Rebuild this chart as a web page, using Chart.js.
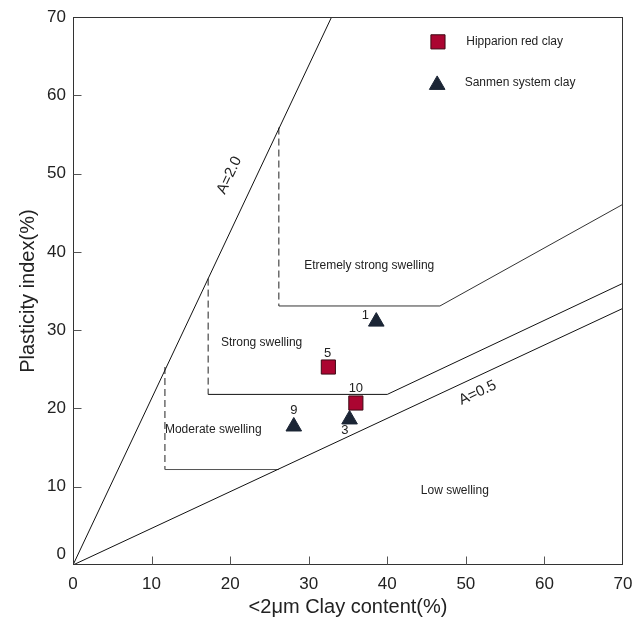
<!DOCTYPE html>
<html>
<head>
<meta charset="utf-8">
<script src="https://cdn.jsdelivr.net/npm/chart.js@4.4.1/dist/chart.umd.min.js"></script>
<style>
  html, body { margin: 0; padding: 0; background: #fff; }
  canvas { display: block; }
</style>
</head>
<body>
<canvas id="swellChart" width="644" height="621"></canvas>
<script>
/* ---------- data ---------- */
const axisTicks = [0, 10, 20, 30, 40, 50, 60, 70];

// samples
const hipparionX   = [32.5, 36.0];
const hipparionY   = [25.3, 20.7];
const hipparionIds = ['5', '10'];
const sanmenX      = [38.6, 35.2, 28.1];
const sanmenY      = [31.1, 18.6, 17.7];
const sanmenIds    = ['1', '3', '9'];

// where the sample numbers are written
const idText = ['1', '5', '10', '3', '9'];
const idX    = [37.2, 32.4, 36.0, 34.6, 28.1];
const idY    = [31.9, 27.0, 22.6, 17.2, 19.8];

// classification boundaries
const a2X       = [0, 32.9];
const a2Y       = [0, 70];
const a05X      = [0, 70];
const a05Y      = [0, 32.8];
const extremeX  = [26.2, 46.7, 70];
const extremeY  = [33.1, 33.1, 46.1];
const strongX   = [17.2, 40.0, 70];
const strongY   = [21.8, 21.8, 36.0];
const moderateX = [11.7, 26.2];
const moderateY = [12.2, 12.2];
const dashX      = [11.7, 17.2, 26.2];
const dashTop    = [25.3, 36.6, 55.9];
const dashBottom = [12.2, 21.8, 33.1];

// zone names
const zoneNames = ['Etremely strong swelling', 'Strong swelling', 'Moderate swelling', 'Low swelling'];
const zoneX     = [37.7, 24.0, 17.85, 48.6];
const zoneY     = [38.3, 28.4, 17.3, 9.45];

/* ---------- helpers ---------- */
const FONT = '"Liberation Sans", Arial, sans-serif';
const RED = '#ab0531', RED_EDGE = '#3d0a15';
const NAVY = '#1b2535';
const pts = (xs, ys) => xs.map((x, i) => ({ x, y: ys[i] }));

function lineSet(xs, ys, color, dash) {
  return {
    type: 'scatter', data: pts(xs, ys), showLine: true,
    borderColor: color, borderWidth: 1, borderDash: dash || [],
    pointRadius: 0, pointHoverRadius: 0, order: 2,
  };
}

/* ---------- overlay: frame, inward ticks, texts, legend ---------- */
const overlay = {
  id: 'overlay',
  afterDatasetsDraw(chart) {
    const { ctx, chartArea: a, scales: { x, y } } = chart;
    const L = Math.round(a.left) + 0.5, R = Math.round(a.right) - 0.5;
    const T = Math.round(a.top) + 0.5, B = Math.round(a.bottom) - 0.5;
    ctx.save();

    ctx.strokeStyle = '#333';
    ctx.lineWidth = 1;
    ctx.strokeRect(L, T, R - L, B - T);

    ctx.strokeStyle = '#555';
    ctx.beginPath();
    axisTicks.slice(1, -1).forEach(v => {
      const px = Math.round(x.getPixelForValue(v)) + 0.5;
      ctx.moveTo(px, B); ctx.lineTo(px, B - 8);
      const py = Math.round(y.getPixelForValue(v)) + 0.5;
      ctx.moveTo(L, py); ctx.lineTo(L + 8, py);
    });
    ctx.stroke();

    ctx.fillStyle = '#222';
    ctx.textAlign = 'center';
    ctx.textBaseline = 'middle';
    ctx.font = '12px ' + FONT;
    zoneNames.forEach((t, i) => ctx.fillText(t, x.getPixelForValue(zoneX[i]), y.getPixelForValue(zoneY[i])));
    ctx.font = '13px ' + FONT;
    idText.forEach((t, i) => ctx.fillText(t, x.getPixelForValue(idX[i]), y.getPixelForValue(idY[i])));

    // line names, rotated along the lines
    ctx.font = '15px ' + FONT;
    [['A=2.0', a2X, a2Y, 19.9, 49.8], ['A=0.5', a05X, a05Y, 51.5, 22.0]].forEach(([t, xs, ys, tx, ty]) => {
      const ang = Math.atan2(y.getPixelForValue(ys[1]) - y.getPixelForValue(ys[0]),
                             x.getPixelForValue(xs[1]) - x.getPixelForValue(xs[0]));
      ctx.save();
      ctx.translate(x.getPixelForValue(tx), y.getPixelForValue(ty));
      ctx.rotate(ang);
      ctx.fillText(t, 0, 0);
      ctx.restore();
    });

    // legend
    ctx.lineWidth = 1;
    ctx.fillStyle = RED; ctx.strokeStyle = RED_EDGE;
    Chart.helpers.drawPoint(ctx, { pointStyle: 'rect', radius: 10, borderWidth: 1 },
      x.getPixelForValue(46.45), y.getPixelForValue(66.85));
    ctx.fillStyle = NAVY; ctx.strokeStyle = NAVY;
    Chart.helpers.drawPoint(ctx, { pointStyle: 'triangle', radius: 9, borderWidth: 1 },
      x.getPixelForValue(46.35), y.getPixelForValue(61.35));
    ctx.fillStyle = '#222';
    ctx.textAlign = 'left';
    ctx.font = '12px ' + FONT;
    ctx.fillText('Hipparion red clay', x.getPixelForValue(50.05), y.getPixelForValue(66.85));
    ctx.fillText('Sanmen system clay', x.getPixelForValue(49.85), y.getPixelForValue(61.65));

    ctx.restore();
  },
};

/* ---------- chart ---------- */
new Chart(document.getElementById('swellChart'), {
  type: 'scatter',
  data: {
    datasets: [
      lineSet(a2X, a2Y, '#111'),
      lineSet(a05X, a05Y, '#111'),
      lineSet(extremeX, extremeY, '#333'),
      lineSet(strongX, strongY, '#111'),
      lineSet(moderateX, moderateY, '#555'),
      ...dashX.map((dx, i) => lineSet([dx, dx], [dashTop[i], dashBottom[i]], '#222', [7, 4])),
      {
        label: 'Hipparion red clay', data: pts(hipparionX, hipparionY),
        pointStyle: 'rect', pointRadius: 10, borderWidth: 1,
        backgroundColor: RED, borderColor: RED_EDGE, order: 1,
      },
      {
        label: 'Sanmen system clay', data: pts(sanmenX, sanmenY),
        pointStyle: 'triangle', pointRadius: 9, borderWidth: 1,
        backgroundColor: NAVY, borderColor: NAVY, order: 1,
      },
    ],
  },
  options: {
    responsive: false,
    animation: false,
    layout: { padding: { top: 15, right: 21, left: 0, bottom: 0 } },
    plugins: { legend: { display: false }, tooltip: { enabled: false } },
    scales: {
      x: {
        type: 'linear', min: 0, max: 70,
        afterBuildTicks: s => { s.ticks = axisTicks.map(v => ({ value: v })); },
        afterFit: s => { s.height = 56; },
        ticks: { font: { size: 17, family: FONT }, color: '#222', padding: 9, maxRotation: 0, autoSkip: false },
        grid: { display: false, drawTicks: false },
        border: { display: false },
        title: { display: true, text: '<2μm Clay content(%)', font: { size: 20, family: FONT }, color: '#222', padding: 2 },
      },
      y: {
        type: 'linear', min: 0, max: 70,
        afterBuildTicks: s => { s.ticks = axisTicks.map(v => ({ value: v })); },
        afterFit: s => { s.width = 73; },
        ticks: { font: { size: 17, family: FONT }, color: '#222', padding: 7, autoSkip: false,
                 callback: v => v === 0 ? ['0', ''] : String(v) },
        grid: { display: false, drawTicks: false },
        border: { display: false },
        title: { display: true, text: 'Plasticity index(%)', font: { size: 20, family: FONT }, color: '#222', padding: 16 },
      },
    },
  },
  plugins: [overlay],
});
</script>
</body>
</html>
